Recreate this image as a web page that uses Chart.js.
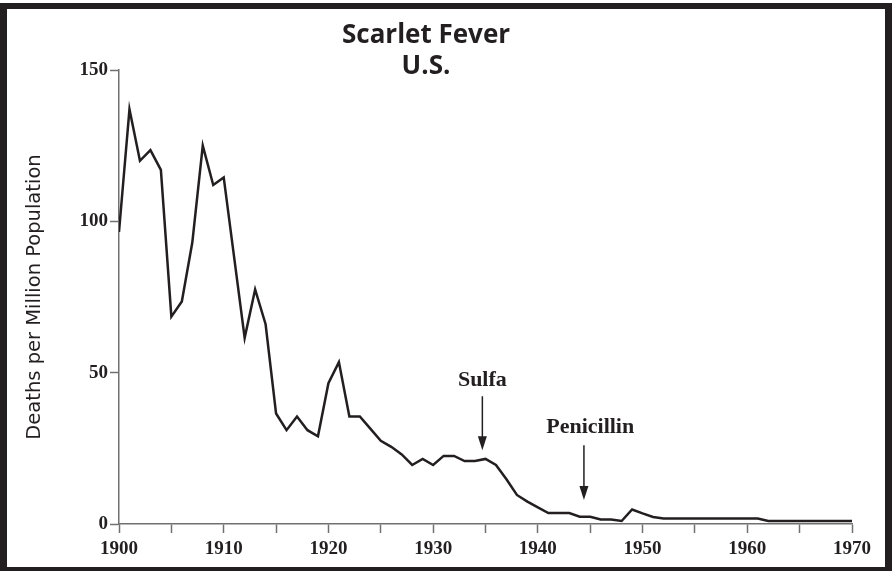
<!DOCTYPE html>
<html>
<head>
<meta charset="utf-8">
<script src="https://cdn.jsdelivr.net/npm/chart.js@4"></script>
<style>
  html, body { margin: 0; padding: 0; background: #fff; }
  #wrap { width: 892px; height: 571px; position: relative; }
</style>
</head>
<body>
<div id="wrap"><canvas id="feverChart"></canvas></div>
<script>
// Scarlet fever deaths per million population, U.S.
const years = [
  1900, 1901, 1902, 1903, 1904, 1905, 1906, 1907, 1908, 1909,
  1910, 1911, 1912, 1913, 1914, 1915, 1916, 1917, 1918, 1919,
  1920, 1921, 1922, 1923, 1924, 1925, 1926, 1927, 1928, 1929,
  1930, 1931, 1932, 1933, 1934, 1935, 1936, 1937, 1938, 1939,
  1940, 1941, 1942, 1943, 1944, 1945, 1946, 1947, 1948, 1949,
  1950, 1951, 1952, 1953, 1954, 1955, 1956, 1957, 1958, 1959,
  1960, 1961, 1962, 1963, 1964, 1965, 1966, 1967, 1968, 1969, 1970
];
const deaths = [
  96.5, 137, 120, 123.5, 117, 68.5, 73.5, 93, 125, 112,
  114.5, 88, 61.5, 77.5, 66, 36.5, 31, 35.5, 31, 29,
  46.5, 53.5, 35.5, 35.5, 31.5, 27.5, 25.5, 23, 19.5, 21.5,
  19.5, 22.5, 22.5, 20.8, 20.8, 21.5, 19.5, 14.8, 9.6, 7.4,
  5.5, 3.6, 3.6, 3.6, 2.4, 2.4, 1.5, 1.5, 1.0, 4.8,
  3.5, 2.3, 1.8, 1.8, 1.8, 1.8, 1.8, 1.8, 1.8, 1.8,
  1.8, 1.8, 1.0, 1.0, 1.0, 1.0, 1.0, 1.0, 1.0, 1.0, 1.0
];
const yTicks = [0, 50, 100, 150];
const xTickLabels = [1900, 1910, 1920, 1930, 1940, 1950, 1960, 1970];

// arrow annotations
const annoLabels = ['Sulfa', 'Penicillin'];
const annoYears = [1934.7, 1944.4];
const annoLabelYears = [1934.7, 1945.0];
const annoLabelValues = [47.5, 31.8];
const annoTops = [42.2, 26];
const annoTips = [24.4, 7.9];

const ink = '#231f20';
const axisGray = '#707070';

const frame = {
  id: 'frame',
  afterDraw(chart) {
    const ctx = chart.ctx;
    const w = chart.width, h = chart.height;
    ctx.save();
    ctx.fillStyle = ink;
    ctx.fillRect(0, 3, w, 6);        // top
    ctx.fillRect(0, 3, 7, h);        // left
    ctx.fillRect(w - 7, 3, 7, h);    // right
    ctx.fillRect(0, h - 4, w, 4);    // bottom
    ctx.restore();
  }
};

const arrows = {
  id: 'arrows',
  afterDatasetsDraw(chart) {
    const ctx = chart.ctx;
    const xs = chart.scales.x, ys = chart.scales.y;
    ctx.save();
    ctx.strokeStyle = ink;
    ctx.fillStyle = ink;
    ctx.lineWidth = 1.5;
    ctx.font = 'bold 22px "Liberation Serif", serif';
    ctx.textAlign = 'center';
    ctx.textBaseline = 'middle';
    annoLabels.forEach((label, i) => {
      const x = xs.getPixelForValue(annoYears[i]);
      const top = ys.getPixelForValue(annoTops[i]);
      const tip = ys.getPixelForValue(annoTips[i]);
      ctx.beginPath();
      ctx.moveTo(x, top);
      ctx.lineTo(x, tip - 10);
      ctx.stroke();
      ctx.beginPath();
      ctx.moveTo(x - 4.5, tip - 14);
      ctx.lineTo(x + 4.5, tip - 14);
      ctx.lineTo(x, tip);
      ctx.closePath();
      ctx.fill();
      ctx.fillText(label, xs.getPixelForValue(annoLabelYears[i]), ys.getPixelForValue(annoLabelValues[i]));
    });
    ctx.restore();
  }
};

const tickFont = { family: '"Liberation Serif", serif', size: 19, weight: 'bold' };

new Chart(document.getElementById('feverChart'), {
  type: 'line',
  data: {
    labels: years,
    datasets: [{
      data: years.map((yr, i) => ({ x: yr, y: deaths[i] })),
      borderColor: ink,
      borderWidth: 2.5,
      pointRadius: 0,
      tension: 0,
      fill: false
    }]
  },
  options: {
    responsive: true,
    maintainAspectRatio: false,
    animation: false,
    layout: { padding: { left: 0, right: 40, top: 0, bottom: 0 } },
    plugins: {
      legend: { display: false },
      tooltip: { enabled: false },
      title: {
        display: true,
        text: ['Scarlet Fever', 'U.S.'],
        color: ink,
        font: { family: '"Open Sans", sans-serif', size: 26, weight: 'bold', lineHeight: 1.2 },
        padding: { top: 20, bottom: -12.4 }
      }
    },
    scales: {
      x: {
        type: 'linear',
        min: 1900,
        max: 1970,
        afterFit(scale) { scale.height = 47; },
        border: { color: axisGray, width: 1.5 },
        grid: { drawOnChartArea: false, drawTicks: true, tickLength: 9, tickColor: axisGray, tickWidth: 1.5 },
        ticks: {
          stepSize: 5,
          color: ink,
          font: tickFont,
          padding: 5,
          maxRotation: 0,
          autoSkip: false,
          callback: v => xTickLabels.includes(v) ? String(v) : ''
        }
      },
      y: {
        min: 0,
        max: 150,
        afterFit(scale) { scale.width = 119; },
        afterBuildTicks(scale) { scale.ticks = yTicks.map(v => ({ value: v })); },
        border: { color: axisGray, width: 1.5 },
        grid: { drawOnChartArea: false, drawTicks: true, tickLength: 9, tickColor: axisGray, tickWidth: 1.5 },
        ticks: { color: ink, font: tickFont, padding: 2 },
        title: {
          display: true,
          text: 'Deaths per Million Population',
          color: ink,
          font: { family: '"DejaVu Sans", sans-serif', size: 19.5 },
          padding: { top: 23.5, bottom: 0 }
        }
      }
    }
  },
  plugins: [frame, arrows]
});
</script>
</body>
</html>
